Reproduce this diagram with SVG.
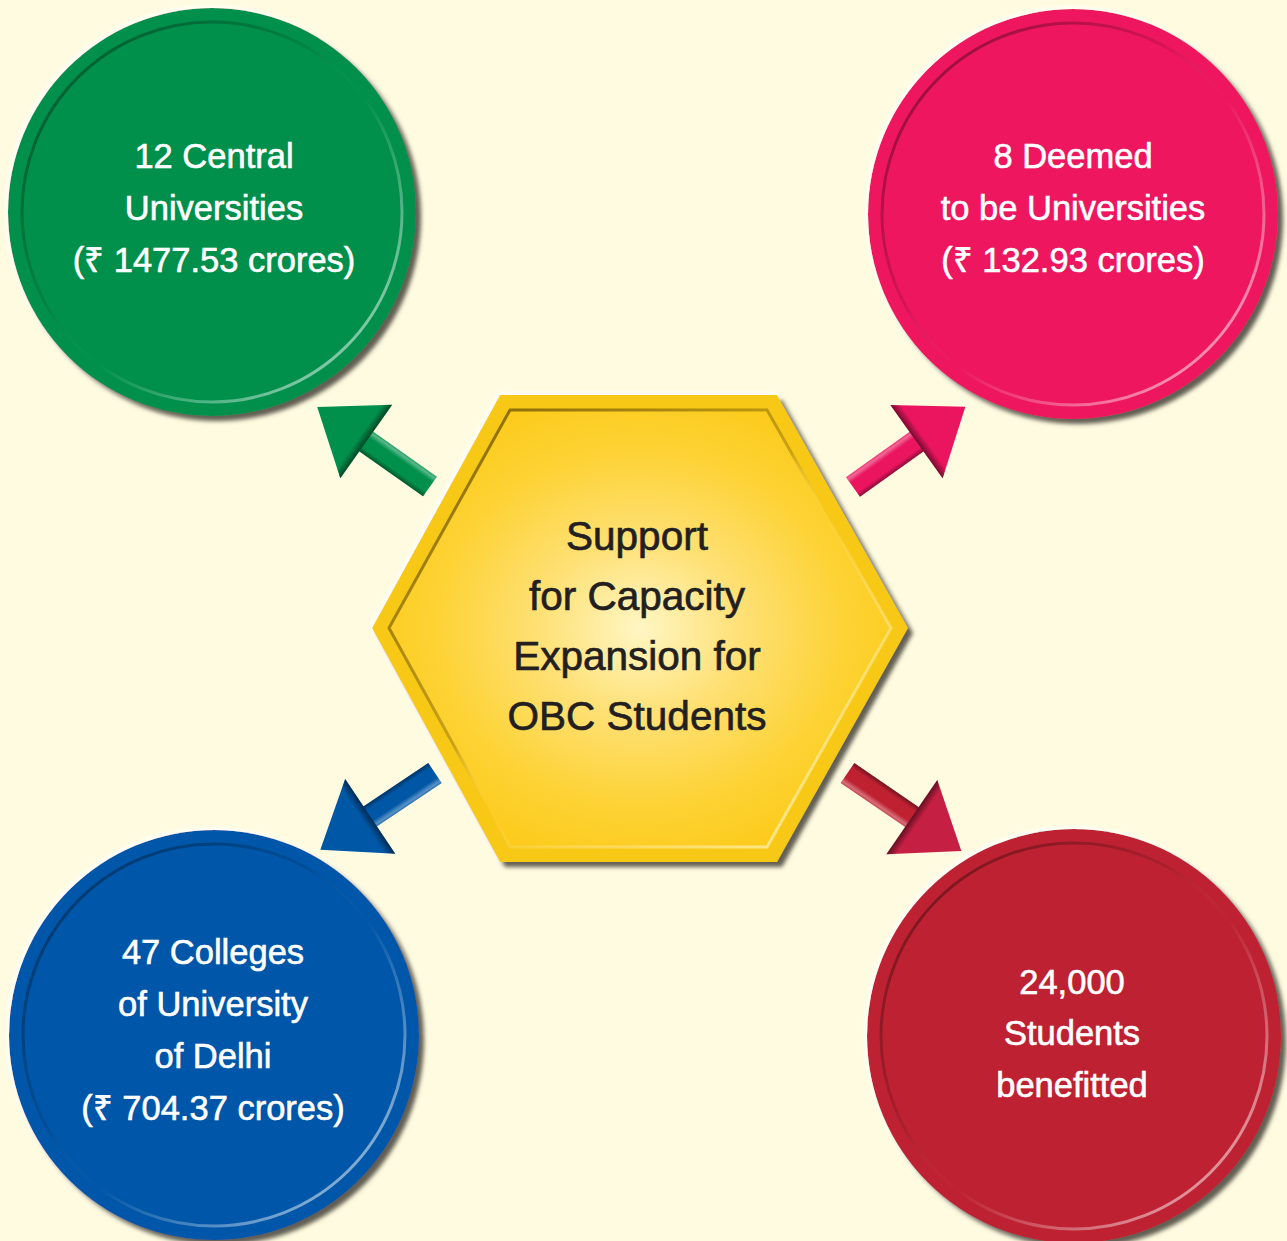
<svg xmlns="http://www.w3.org/2000/svg" width="1287" height="1241" viewBox="0 0 1287 1241">
<defs>
<style>
.ct{font-family:"Liberation Sans",Arial,Helvetica,sans-serif;font-size:34.5px;fill:#ffffff;stroke:#ffffff;stroke-width:0.6;text-anchor:middle}
.ht{font-family:"Liberation Sans",Arial,Helvetica,sans-serif;font-size:40.5px;fill:#231f20;stroke:#231f20;stroke-width:0.7;text-anchor:middle}
.ring{fill:none;stroke:url(#ringShade);stroke-width:3}
.shaftShade{fill:url(#shaftShade)}
.headShade{fill:url(#headShade)}
</style>
<filter id="ds" x="-10%" y="-10%" width="125%" height="125%">
<feGaussianBlur in="SourceAlpha" stdDeviation="2.2" result="bl"/>
<feOffset in="bl" dx="5" dy="5" result="o1"/>
<feFlood flood-color="#59564b" flood-opacity="0.95"/>
<feComposite in2="o1" operator="in" result="sh"/>
<feOffset in="bl" dx="-2" dy="-2" result="o2"/>
<feFlood flood-color="#ffffff" flood-opacity="0.9"/>
<feComposite in2="o2" operator="in" result="gl"/>
<feMerge><feMergeNode in="gl"/><feMergeNode in="sh"/><feMergeNode in="SourceGraphic"/></feMerge>
</filter>
<linearGradient id="ringShade" x1="0" y1="0" x2="1" y2="1">
<stop offset="0" stop-color="#000" stop-opacity="0.45"/>
<stop offset="0.4" stop-color="#000" stop-opacity="0.1"/>
<stop offset="0.55" stop-color="#fff" stop-opacity="0"/>
<stop offset="0.85" stop-color="#fff" stop-opacity="0.5"/>
<stop offset="1" stop-color="#fff" stop-opacity="0.3"/>
</linearGradient>
<linearGradient id="hexRing" x1="0" y1="0" x2="1" y2="1">
<stop offset="0" stop-color="#5a4300" stop-opacity="0.8"/>
<stop offset="0.45" stop-color="#5a4300" stop-opacity="0.3"/>
<stop offset="0.55" stop-color="#fff" stop-opacity="0"/>
<stop offset="1" stop-color="#fff8c0" stop-opacity="0.8"/>
</linearGradient>
<radialGradient id="hexFill" cx="0.5" cy="0.5" r="0.55">
<stop offset="0" stop-color="#fff6c4"/>
<stop offset="0.35" stop-color="#fee178"/>
<stop offset="0.75" stop-color="#fdd233"/>
<stop offset="1" stop-color="#fccb1c"/>
</radialGradient>
<linearGradient id="shaftShade" x1="0" y1="0" x2="0" y2="1">
<stop offset="0" stop-color="#000" stop-opacity="0.4"/>
<stop offset="0.22" stop-color="#000" stop-opacity="0"/>
<stop offset="0.7" stop-color="#fff" stop-opacity="0"/>
<stop offset="0.9" stop-color="#fff" stop-opacity="0.35"/>
<stop offset="1" stop-color="#fff" stop-opacity="0.15"/>
</linearGradient>
<linearGradient id="headShade" x1="0" y1="0" x2="1" y2="0">
<stop offset="0" stop-color="#000" stop-opacity="0.5"/>
<stop offset="0.14" stop-color="#000" stop-opacity="0"/>
<stop offset="1" stop-color="#000" stop-opacity="0"/>
</linearGradient>
</defs>
<rect x="0" y="0" width="1287" height="1241" fill="#fffbe0"/>

<g id="connectors">
<g id="arrow-green" transform="translate(430,486.5) rotate(-144.8)">
<rect x="0" y="-12" width="80" height="24" fill="#00904b"/>
<rect x="0" y="-12" width="80" height="24" class="shaftShade"/>
<polygon points="78,-45 138,0 78,45" fill="#00904b"/>
<polygon points="78,-45 138,0 78,45" class="headShade"/>
</g>
<g id="arrow-pink" transform="translate(853,487) rotate(-35.5) scale(1,-1)">
<rect x="0" y="-12" width="80" height="24" fill="#ea155e"/>
<rect x="0" y="-12" width="80" height="24" class="shaftShade"/>
<polygon points="78,-45 138,0 78,45" fill="#ea155e"/>
<polygon points="78,-45 138,0 78,45" class="headShade"/>
</g>
<g id="arrow-blue" transform="translate(435,773) rotate(146.2) scale(1,-1)">
<rect x="0" y="-12" width="80" height="24" fill="#0057a6"/>
<rect x="0" y="-12" width="80" height="24" class="shaftShade"/>
<polygon points="78,-45 138,0 78,45" fill="#0057a6"/>
<polygon points="78,-45 138,0 78,45" class="headShade"/>
</g>
<g id="arrow-red" transform="translate(847.5,773) rotate(34.4)">
<rect x="0" y="-12" width="80" height="24" fill="#bf2131"/>
<rect x="0" y="-12" width="80" height="24" class="shaftShade"/>
<polygon points="78,-45 138,0 78,45" fill="#c61f44"/>
<polygon points="78,-45 138,0 78,45" class="headShade"/>
</g>
</g>

<g id="node-green">
<circle cx="212" cy="212" r="204" fill="#00904b" filter="url(#ds)"/>
<circle cx="212" cy="212" r="190" class="ring"/>
<text class="ct" x="214" y="168">12 Central</text>
<text class="ct" x="214" y="220">Universities</text>
<text class="ct" x="214" y="272">(₹ 1477.53 crores)</text>
</g>

<g id="node-pink">
<circle cx="1073" cy="214" r="205" fill="#ed145f" filter="url(#ds)"/>
<circle cx="1073" cy="214" r="191" class="ring"/>
<text class="ct" x="1073" y="168">8 Deemed</text>
<text class="ct" x="1073" y="220">to be Universities</text>
<text class="ct" x="1073" y="272">(₹ 132.93 crores)</text>
</g>

<g id="node-blue">
<circle cx="214" cy="1035" r="205" fill="#0057a8" filter="url(#ds)"/>
<circle cx="214" cy="1035" r="191" class="ring"/>
<text class="ct" x="213" y="964">47 Colleges</text>
<text class="ct" x="213" y="1016">of University</text>
<text class="ct" x="213" y="1068">of Delhi</text>
<text class="ct" x="213" y="1120">(₹ 704.37 crores)</text>
</g>

<g id="node-red">
<circle cx="1074" cy="1036" r="207" fill="#be2130" filter="url(#ds)"/>
<circle cx="1074" cy="1036" r="193" class="ring"/>
<text class="ct" x="1072" y="994">24,000</text>
<text class="ct" x="1072" y="1045">Students</text>
<text class="ct" x="1072" y="1097">benefitted</text>
</g>

<g id="node-center">
<polygon points="372,628 500,395 777,395 908,628 777,862 500,862" fill="#f8c812" filter="url(#ds)"/>
<polygon points="389,628 510,410 767,410 891,628 767,847 510,847" fill="url(#hexFill)"/>
<polygon points="389,628 510,410 767,410 891,628 767,847 510,847" fill="none" stroke="url(#hexRing)" stroke-width="3"/>
<text class="ht" x="637" y="550">Support</text>
<text class="ht" x="637" y="610">for Capacity</text>
<text class="ht" x="637" y="670">Expansion for</text>
<text class="ht" x="637" y="730">OBC Students</text>
</g>
</svg>
